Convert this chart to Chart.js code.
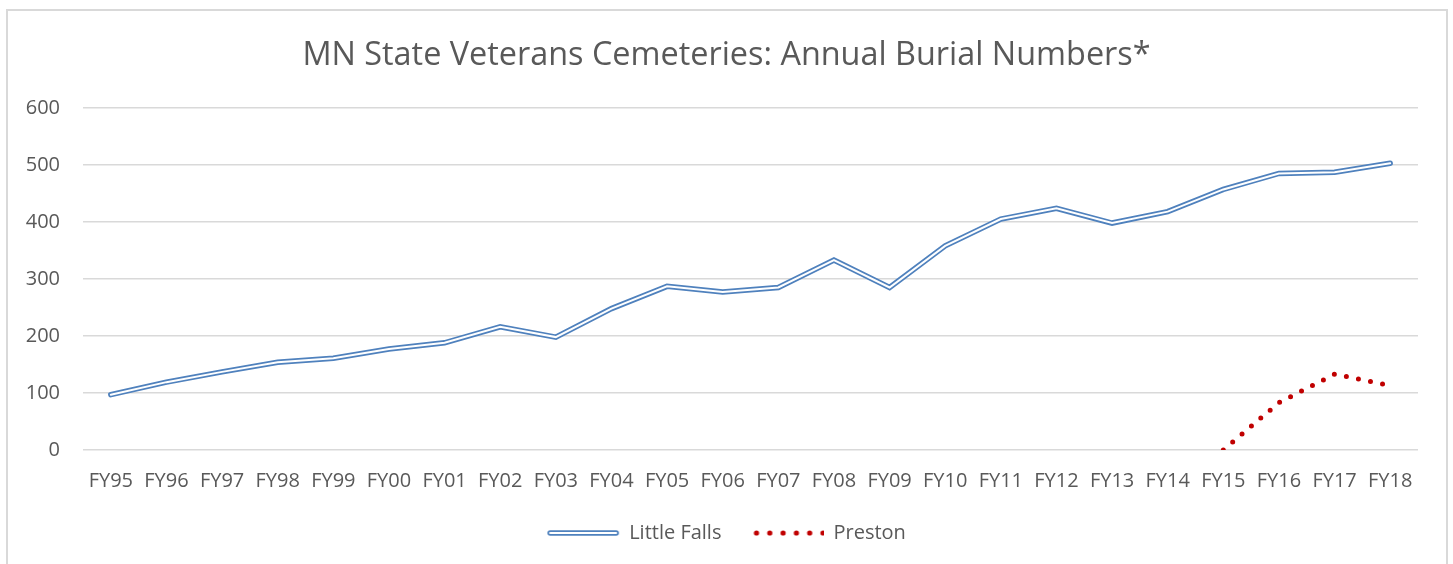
<!DOCTYPE html>
<html>
<head>
<meta charset="utf-8">
<script src="https://cdn.jsdelivr.net/npm/chart.js@4.4.1/dist/chart.umd.min.js"></script>
<style>
  html, body { margin: 0; padding: 0; background: #fff; }
  #frame {
    position: absolute; left: 6px; top: 9px; width: 1438px; height: 600px;
    border: 2px solid #d9d9d9;
  }
  #wrap { position: absolute; left: 0; top: 0; width: 1453px; height: 564px; }
</style>
</head>
<body>
<div id="frame"></div>
<div id="wrap"><canvas id="chart" width="1453" height="564"></canvas></div>
<script>
const years = ['FY95', 'FY96', 'FY97', 'FY98', 'FY99', 'FY00', 'FY01', 'FY02', 'FY03', 'FY04', 'FY05', 'FY06',
    'FY07', 'FY08', 'FY09', 'FY10', 'FY11', 'FY12', 'FY13', 'FY14', 'FY15', 'FY16', 'FY17', 'FY18']
const littleFalls = [97, 119, 137, 154, 161, 177, 188, 216, 198, 248, 287, 277,
    285, 333, 285, 358, 405, 424, 398, 418, 457, 485, 487, 503]
const preston = [null, null, null, null, null, null, null, null, null, null, null, null,
    null, null, null, null, null, null, null, null, 0, 83, 133, 113]
const yTicks = [0, 100, 200, 300, 400, 500, 600]

const blue = '#4f81bd'
const red = '#c00000'
const grey = '#595959'
const fontFamily = '"Open Sans", sans-serif'

// little pictures for the legend markers
const doubleLineMarker = () => {
    const c = document.createElement('canvas')
    c.width = 74; c.height = 10
    const x = c.getContext('2d')
    x.lineCap = 'round'
    x.strokeStyle = blue
    x.lineWidth = 5.5
    x.beginPath(); x.moveTo(4, 5); x.lineTo(70, 5); x.stroke()
    x.strokeStyle = '#fff'
    x.lineWidth = 2
    x.beginPath(); x.moveTo(4, 5); x.lineTo(70, 5); x.stroke()
    return c
}

const dotsMarker = () => {
    const c = document.createElement('canvas')
    c.width = 74; c.height = 10
    const x = c.getContext('2d')
    x.fillStyle = red
    for (let i = 0; i < 6; i++) {
        x.beginPath()
        x.arc(6 + i * 13.3, 5, 2.6, 0, Math.PI * 2)
        x.fill()
    }
    return c
}

const markers = [doubleLineMarker(), null, dotsMarker()]

const ctx = document.getElementById('chart')

new Chart(ctx, {
    type: 'line',
    data: {
        labels: years,
        datasets: [{
            label: 'Little Falls',
            data: littleFalls,
            order: 1,
            borderColor: blue,
            borderWidth: 5.5,
            borderCapStyle: 'round',
            pointRadius: 0,
            tension: 0
        }, {
            // white core drawn over the blue one -> double line look
            label: 'inner',
            data: littleFalls,
            order: 0,
            borderColor: '#ffffff',
            borderWidth: 2,
            borderCapStyle: 'round',
            pointRadius: 0,
            tension: 0
        }, {
            label: 'Preston',
            data: preston,
            order: 2,
            borderColor: red,
            borderWidth: 5,
            borderDash: [0, 12.3],
            borderCapStyle: 'round',
            pointRadius: 0,
            tension: 0
        }]
    },
    options: {
        responsive: false,
        animation: false,
        layout: { padding: { left: 0, right: 0, top: 0, bottom: 11 } },
        plugins: {
            title: {
                display: true,
                text: 'MN State Veterans Cemeteries: Annual Burial Numbers*',
                color: grey,
                font: { family: fontFamily, size: 32.4, weight: 'normal' },
                padding: { top: 36, bottom: 33 }
            },
            legend: {
                position: 'bottom',
                labels: {
                    color: grey,
                    font: { family: fontFamily, size: 20 },
                    usePointStyle: true,
                    pointStyleWidth: 72,
                    padding: 30,
                    filter: (item) => item.text !== 'inner',
                    generateLabels: (chart) => {
                        const items = Chart.defaults.plugins.legend.labels.generateLabels(chart)
                        items.forEach(item => { item.pointStyle = markers[item.datasetIndex] })
                        return items
                    }
                }
            },
            tooltip: { enabled: false }
        },
        scales: {
            x: {
                offset: true,
                grid: { display: false, drawTicks: false },
                border: { display: false },
                ticks: {
                    color: grey,
                    font: { family: fontFamily, size: 20 },
                    autoSkip: false,
                    maxRotation: 0,
                    padding: 19
                },
                afterFit: (scale) => { scale.height = 43 }
            },
            y: {
                min: 0,
                max: 600,
                afterBuildTicks: (scale) => { scale.ticks = yTicks.map(v => ({ value: v })) },
                grid: { color: '#d9d9d9', lineWidth: 1.5, drawTicks: false },
                border: { display: false },
                ticks: {
                    color: grey,
                    font: { family: fontFamily, size: 20 },
                    padding: 23
                },
                afterFit: (scale) => { scale.width = 83 }
            },
            // empty right axis, only there to keep the right margin
            // while title and legend stay centred on the whole canvas
            yRight: {
                position: 'right',
                min: 0,
                max: 600,
                grid: { display: false, drawTicks: false },
                border: { display: false },
                ticks: { display: false },
                afterFit: (scale) => { scale.width = 35 }
            }
        }
    }
})
</script>
</body>
</html>
